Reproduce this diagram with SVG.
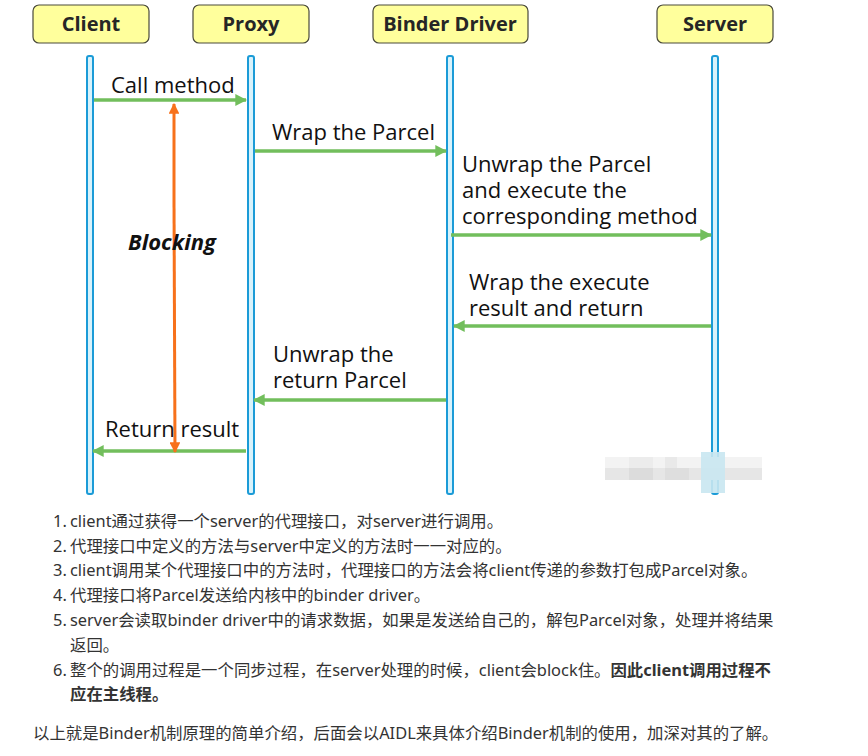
<svg xmlns="http://www.w3.org/2000/svg" width="868" height="756" viewBox="0 0 868 756">
<style>
.box{fill:#ffff9c;stroke:#4a4a3a;stroke-width:1.2}
.nl{font-family:"Open Sans","Noto Sans",sans-serif;font-weight:bold;font-size:20px;fill:#262626;text-anchor:middle}
.life{fill:#d8f2fb;stroke:#1b9bd7;stroke-width:2}
.msg{stroke:#72be5c;stroke-width:3.5;fill:none}
.ml{font-family:"Open Sans","Noto Sans",sans-serif;font-size:22px;fill:#111}
.blk{stroke:#f7711b;stroke-width:3;fill:none}
.tx{font-family:"Noto Sans","Noto Sans CJK SC",sans-serif;font-size:16.4px;fill:#333}
.b{font-weight:bold}
</style>
<defs>
<marker id="ga" viewBox="0 0 10 10" refX="9" refY="5" markerWidth="3.4" markerHeight="3.4" orient="auto" markerUnits="strokeWidth"><path d="M0,0 L10,5 L0,10 z" fill="#72be5c"/></marker>
<marker id="oa" viewBox="0 0 10 10" refX="9" refY="5" markerWidth="3.6" markerHeight="3.6" orient="auto" markerUnits="strokeWidth"><path d="M0,0 L10,5 L0,10 z" fill="#f7711b"/></marker>
</defs>
<rect width="868" height="756" fill="#fff"/>
<g id="client"><rect class="box" x="33" y="5" width="116" height="38" rx="6"/><text class="nl" x="91" y="31">Client</text><rect class="life" x="87" y="56" width="6" height="438" rx="2"/></g>
<g id="proxy"><rect class="box" x="193" y="5" width="116" height="38" rx="6"/><text class="nl" x="251" y="31">Proxy</text><rect class="life" x="248" y="56" width="6" height="438" rx="2"/></g>
<g id="binder"><rect class="box" x="373" y="5" width="155" height="38" rx="6"/><text class="nl" x="450" y="31">Binder Driver</text><rect class="life" x="447" y="56" width="6" height="438" rx="2"/></g>
<g id="server"><rect class="box" x="657" y="5" width="116" height="38" rx="6"/><text class="nl" x="715" y="31">Server</text><rect class="life" x="712" y="56" width="6" height="438" rx="2"/></g>
<g id="watermark">
<rect x="605" y="457" width="157" height="11" fill="#f3f3f3"/>
<rect x="605" y="468" width="157" height="12" fill="#e6e6e6"/>
<rect x="629" y="457" width="24" height="11" fill="#ececec"/>
<rect x="665" y="457" width="12" height="11" fill="#e9e9e9"/>
<rect x="629" y="468" width="24" height="12" fill="#dcdcdc"/>
<rect x="665" y="468" width="24" height="12" fill="#dedede"/>
<rect x="701" y="452" width="24" height="41" fill="#c9e7f1" opacity="0.9"/>
</g>
<g id="connectors">
<line class="msg" x1="94" y1="100" x2="246" y2="100" marker-end="url(#ga)"/>
<line class="msg" x1="255" y1="151" x2="446" y2="151" marker-end="url(#ga)"/>
<line class="msg" x1="451" y1="235" x2="711" y2="235" marker-end="url(#ga)"/>
<line class="msg" x1="711" y1="326" x2="454" y2="326" marker-end="url(#ga)"/>
<line class="msg" x1="446" y1="400" x2="254" y2="400" marker-end="url(#ga)"/>
<line class="msg" x1="246" y1="451" x2="93" y2="451" marker-end="url(#ga)"/>
<line class="blk" x1="174" y1="200" x2="174" y2="104" marker-end="url(#oa)"/>
<line class="blk" x1="174" y1="200" x2="175" y2="452" marker-end="url(#oa)"/>
<text class="ml" x="111" y="93">Call method</text>
<text class="ml" x="272" y="140">Wrap the Parcel</text>
<text class="ml" x="462" y="172">Unwrap the Parcel<tspan x="462" dy="26">and execute the</tspan><tspan x="462" dy="26">corresponding method</tspan></text>
<text class="ml" x="469" y="290">Wrap the execute<tspan x="469" dy="26">result and return</tspan></text>
<text class="ml" x="273" y="362">Unwrap the<tspan x="273" dy="26">return Parcel</tspan></text>
<text class="ml" x="105" y="437">Return result</text>
<text class="ml" x="128" y="250" font-weight="bold" font-style="italic" font-size="22">Blocking</text>
</g>
<g id="notes">
<text class="tx" x="53" y="527">1.</text><text class="tx" x="70" y="527">client通过获得一个server的代理接口，对server进行调用。</text>
<text class="tx" x="53" y="552">2.</text><text class="tx" x="70" y="552">代理接口中定义的方法与server中定义的方法时一一对应的。</text>
<text class="tx" x="53" y="576">3.</text><text class="tx" x="70" y="576">client调用某个代理接口中的方法时，代理接口的方法会将client传递的参数打包成Parcel对象。</text>
<text class="tx" x="53" y="601">4.</text><text class="tx" x="70" y="601">代理接口将Parcel发送给内核中的binder driver。</text>
<text class="tx" x="53" y="626">5.</text><text class="tx" x="70" y="626">server会读取binder driver中的请求数据，如果是发送给自己的，解包Parcel对象，处理并将结果</text>
<text class="tx" x="70" y="651">返回。</text>
<text class="tx" x="53" y="676">6.</text><text class="tx" x="70" y="676">整个的调用过程是一个同步过程，在server处理的时候，client会block住。<tspan class="b">因此client调用过程不</tspan></text>
<text class="tx b" x="70" y="700">应在主线程。</text>
<text class="tx" x="33" y="739">以上就是Binder机制原理的简单介绍，后面会以AIDL来具体介绍Binder机制的使用，加深对其的了解。</text>
</g>
</svg>
